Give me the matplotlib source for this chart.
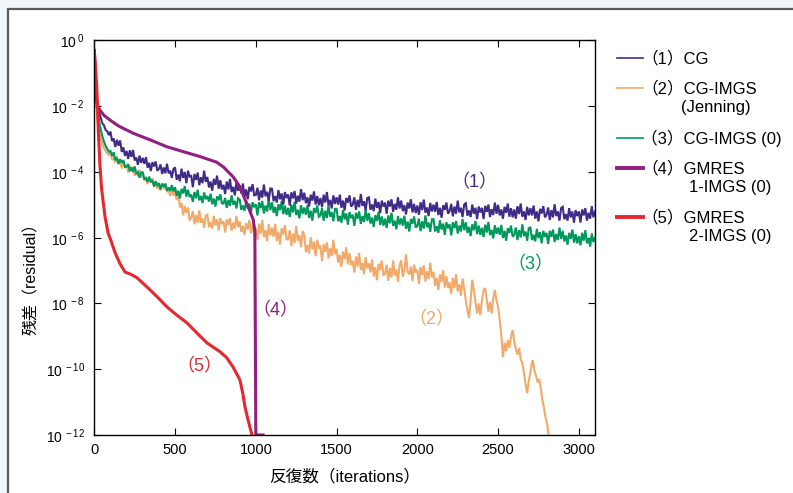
import numpy as np
import matplotlib
matplotlib.use('Agg')
import matplotlib.pyplot as plt
from matplotlib.lines import Line2D
from matplotlib.patches import Rectangle
from matplotlib.ticker import FixedLocator, NullLocator, FuncFormatter

plt.rcParams['font.family'] = ['Liberation Sans', 'Noto Sans CJK JP', 'DejaVu Sans']
plt.rcParams['mathtext.default'] = 'regular'

# ---------------- data (log10 of residual) ----------------
# (1) CG
cg_it_early = [0, 3, 6, 10, 15, 20, 30, 40, 50, 60, 70, 80, 90]
cg_log_early = [-0.3, -0.75, -1.15, -1.5, -1.75, -1.88, -2.2, -2.35, -2.52, -2.58, -2.72, -2.76, -2.88]
cg_log_grid = [  # iterations 100..3100 every 10
    -2.77, -3.06, -2.98, -3.24, -3.02, -3.2, -3.04, -3.39, -3.25, -3.51,
    -3.36, -3.6, -3.34, -3.54, -3.33, -3.65, -3.56, -3.78, -3.5, -3.72,
    -3.57, -3.75, -3.55, -3.87, -3.72, -3.97, -3.7, -3.83, -3.68, -3.96,
    -3.91, -3.77, -4.06, -3.86, -4.04, -3.75, -4.04, -3.96, -4.18, -3.91,
    -3.86, -4.24, -4.08, -4.28, -3.9, -4.18, -4.0, -4.34, -3.96, -4.14,
    -4.12, -4.46, -4.06, -4.24, -4.02, -4.4, -4.16, -4.34, -3.96, -4.3,
    -4.15, -4.47, -4.29, -4.57, -4.21, -4.39, -4.11, -4.51, -4.25, -4.53,
    -4.39, -4.67, -4.29, -4.53, -4.21, -4.61, -4.45, -4.71, -4.31, -4.57,
    -4.43, -4.65, -4.35, -4.75, -4.53, -4.83, -4.45, -4.59, -4.37, -4.71,
    -4.7, -4.48, -4.86, -4.56, -4.78, -4.38, -4.74, -4.6, -4.88, -4.5,
    -4.51, -4.89, -4.73, -4.93, -4.55, -4.83, -4.65, -4.99, -4.61, -4.79,
    -4.68, -5.02, -4.62, -4.8, -4.58, -4.96, -4.72, -4.9, -4.52, -4.86,
    -4.63, -4.95, -4.77, -5.05, -4.69, -4.87, -4.59, -4.99, -4.73, -5.01,
    -4.79, -5.07, -4.69, -4.93, -4.61, -5.01, -4.85, -5.11, -4.71, -4.97,
    -4.77, -4.99, -4.69, -5.09, -4.87, -5.17, -4.79, -4.93, -4.71, -5.05,
    -4.99, -4.77, -5.15, -4.85, -5.07, -4.67, -5.03, -4.89, -5.17, -4.79,
    -4.77, -5.15, -4.99, -5.19, -4.81, -5.09, -4.91, -5.25, -4.87, -5.05,
    -4.93, -5.27, -4.87, -5.05, -4.83, -5.21, -4.97, -5.15, -4.77, -5.11,
    -4.87, -5.19, -5.01, -5.29, -4.93, -5.11, -4.83, -5.23, -4.97, -5.25,
    -5.02, -5.3, -4.92, -5.16, -4.84, -5.24, -5.08, -5.34, -4.94, -5.2,
    -4.99, -5.21, -4.91, -5.31, -5.09, -5.39, -5.01, -5.15, -4.93, -5.27,
    -5.19, -4.97, -5.35, -5.05, -5.27, -4.87, -5.23, -5.09, -5.37, -4.99,
    -4.95, -5.33, -5.17, -5.37, -4.99, -5.27, -5.09, -5.43, -5.05, -5.23,
    -5.09, -5.43, -5.03, -5.21, -4.99, -5.37, -5.13, -5.31, -4.93, -5.27,
    -5.0, -5.32, -5.14, -5.42, -5.06, -5.24, -4.96, -5.36, -5.1, -5.38,
    -5.14, -5.42, -5.04, -5.28, -4.96, -5.36, -5.2, -5.46, -5.06, -5.32,
    -5.1, -5.32, -5.02, -5.42, -5.2, -5.5, -5.12, -5.26, -5.04, -5.38,
    -5.3, -5.08, -5.46, -5.16, -5.38, -4.98, -5.34, -5.2, -5.48, -5.1,
    -5.06, -5.44, -5.28, -5.48, -5.1, -5.38, -5.2, -5.54, -5.16, -5.34,
    -5.2, -5.54, -5.14, -5.32, -5.1, -5.48, -5.24, -5.42, -5.04, -5.38,
    -5.2]

# (2) CG-IMGS (Jenning)
jen_it_early = [0, 3, 6, 10, 15, 20, 30, 40, 50, 60, 70, 80, 90]
jen_log_early = [-0.3, -0.8, -1.3, -1.75, -2.15, -2.45, -2.78, -3.0, -3.15, -3.27, -3.36, -3.43, -3.48]
jen_log_grid = [  # iterations 100..2490 every 10
    -3.37, -3.63, -3.57, -3.72, -3.52, -3.73, -3.65, -3.89, -3.7, -3.84,
    -3.79, -4.02, -3.81, -3.95, -3.85, -4.11, -3.99, -4.13, -3.93, -4.17,
    -4.04, -4.26, -4.17, -4.37, -4.19, -4.31, -4.18, -4.45, -4.31, -4.51,
    -4.37, -4.56, -4.35, -4.52, -4.34, -4.61, -4.55, -4.73, -4.52, -4.72,
    -4.56, -4.85, -4.62, -5.08, -4.94, -5.32, -5.03, -5.24, -5.08, -5.47,
    -5.39, -5.19, -5.59, -5.31, -5.55, -5.17, -5.54, -5.41, -5.7, -5.33,
    -5.3, -5.68, -5.52, -5.72, -5.34, -5.62, -5.44, -5.78, -5.4, -5.58,
    -5.5, -5.84, -5.44, -5.62, -5.4, -5.78, -5.54, -5.72, -5.34, -5.68,
    -5.5, -5.82, -5.64, -5.92, -5.56, -5.74, -5.46, -5.86, -5.6, -5.88,
    -5.7, -6.06, -5.57, -5.88, -5.46, -5.98, -5.77, -6.11, -5.59, -5.93,
    -5.69, -5.97, -5.58, -6.1, -5.82, -6.21, -5.71, -5.9, -5.61, -6.05,
    -6.05, -5.77, -6.26, -5.87, -6.16, -5.64, -6.1, -5.92, -6.29, -5.79,
    -5.93, -6.43, -6.22, -6.48, -5.99, -6.35, -6.12, -6.56, -6.06, -6.3,
    -6.27, -6.71, -6.19, -6.43, -6.14, -6.63, -6.32, -6.56, -6.06, -6.5,
    -6.34, -6.76, -6.52, -6.89, -6.42, -6.65, -6.29, -6.81, -6.47, -6.83,
    -6.7, -7.06, -6.57, -6.88, -6.46, -6.98, -6.77, -7.11, -6.59, -6.93,
    -6.77, -7.05, -6.66, -7.18, -6.9, -7.29, -6.79, -6.98, -6.69, -7.13,
    -7.1, -6.82, -7.31, -6.92, -7.21, -6.69, -7.15, -6.97, -7.34, -6.84,
    -6.69, -7.19, -6.98, -6.5, -7.05, -7.11, -6.88, -7.32, -6.82, -7.06,
    -6.97, -7.41, -6.89, -7.13, -6.84, -7.33, -7.02, -7.26, -6.76, -7.2,
    -7.04, -7.46, -7.22, -7.59, -7.12, -7.35, -6.99, -7.51, -7.17, -7.53,
    -7.35, -7.71, -7.22, -7.53, -7.11, -7.63, -7.42, -7.76, -7.24, -7.58,
    -7.9, -8.2, -8.44, -7.9, -7.28, -7.6, -7.95, -8.3, -8.0, -8.35,
    -7.9, -7.6, -7.53, -7.9, -8.25, -7.95, -8.3, -7.85, -7.59, -7.9]
jen_it_tail = [2500, 2510, 2520, 2530, 2540, 2550, 2560, 2570, 2580, 2590, 2600, 2610, 2620, 2630,
               2640, 2650, 2660, 2670, 2680, 2690, 2700, 2710, 2715, 2725, 2735, 2745, 2755, 2765,
               2775, 2785, 2795, 2805, 2815]
jen_log_tail = [-8.1, -8.5, -8.95, -9.63, -9.2, -9.45, -9.11, -9.35, -9.0, -8.81, -9.15, -9.4, -9.55, -9.35,
                -9.7, -9.81, -10.1, -10.45, -10.72, -10.35, -10.1, -9.8, -9.72, -10.05, -10.2, -10.4, -10.3,
                -10.6, -10.95, -11.2, -11.5, -11.7, -12.1]

# (3) CG-IMGS (0)
g0_it_early = [0, 3, 6, 10, 15, 20, 30, 40, 50, 60, 70, 80, 90]
g0_log_early = [-0.3, -0.75, -1.2, -1.6, -1.9, -2.1, -2.45, -2.72, -2.92, -3.08, -3.2, -3.3, -3.38]
g0_log_grid = [  # iterations 100..3100 every 10
    -3.36, -3.51, -3.4, -3.64, -3.57, -3.76, -3.61, -3.72, -3.64, -3.85,
    -3.84, -3.76, -3.98, -3.86, -4.0, -3.83, -4.04, -4.0, -4.17, -4.01,
    -4.01, -4.23, -4.18, -4.3, -4.14, -4.31, -4.25, -4.44, -4.28, -4.4,
    -4.34, -4.53, -4.35, -4.45, -4.36, -4.57, -4.47, -4.58, -4.4, -4.59,
    -4.46, -4.72, -4.57, -4.8, -4.51, -4.65, -4.43, -4.75, -4.54, -4.76,
    -4.69, -4.91, -4.61, -4.8, -4.54, -4.86, -4.73, -4.94, -4.62, -4.83,
    -4.73, -4.9, -4.66, -4.98, -4.81, -5.05, -4.74, -4.86, -4.68, -4.95,
    -4.96, -4.79, -5.09, -4.85, -5.03, -4.71, -4.99, -4.88, -5.11, -4.8,
    -4.84, -5.15, -5.02, -5.18, -4.88, -5.1, -4.96, -5.23, -4.92, -5.07,
    -4.98, -5.32, -4.92, -5.1, -4.88, -5.26, -5.02, -5.2, -4.82, -5.16,
    -4.92, -5.24, -5.06, -5.34, -4.98, -5.16, -4.88, -5.28, -5.02, -5.3,
    -5.09, -5.37, -4.99, -5.23, -4.91, -5.31, -5.15, -5.41, -5.01, -5.27,
    -5.08, -5.3, -5.0, -5.4, -5.18, -5.48, -5.1, -5.24, -5.02, -5.36,
    -5.32, -5.1, -5.48, -5.18, -5.4, -5.0, -5.36, -5.22, -5.5, -5.12,
    -5.12, -5.5, -5.34, -5.54, -5.16, -5.44, -5.26, -5.6, -5.22, -5.4,
    -5.3, -5.64, -5.24, -5.42, -5.2, -5.58, -5.34, -5.52, -5.14, -5.48,
    -5.25, -5.57, -5.39, -5.67, -5.31, -5.49, -5.21, -5.61, -5.35, -5.63,
    -5.42, -5.7, -5.32, -5.56, -5.24, -5.64, -5.48, -5.74, -5.34, -5.6,
    -5.41, -5.63, -5.33, -5.73, -5.51, -5.81, -5.43, -5.57, -5.35, -5.69,
    -5.64, -5.42, -5.8, -5.5, -5.72, -5.32, -5.68, -5.54, -5.82, -5.44,
    -5.43, -5.81, -5.65, -5.85, -5.47, -5.75, -5.57, -5.91, -5.53, -5.71,
    -5.59, -5.93, -5.53, -5.71, -5.49, -5.87, -5.63, -5.81, -5.43, -5.77,
    -5.53, -5.85, -5.67, -5.95, -5.59, -5.77, -5.49, -5.89, -5.63, -5.91,
    -5.7, -5.98, -5.6, -5.84, -5.52, -5.92, -5.76, -6.02, -5.62, -5.88,
    -5.69, -5.91, -5.61, -6.01, -5.79, -6.09, -5.71, -5.85, -5.63, -5.97,
    -5.91, -5.69, -6.07, -5.77, -5.99, -5.59, -5.95, -5.81, -6.09, -5.71,
    -5.69, -6.07, -5.91, -6.11, -5.73, -6.01, -5.83, -6.17, -5.79, -5.97,
    -5.85, -6.19, -5.79, -5.97, -5.75, -6.13, -5.89, -6.07, -5.69, -6.03,
    -5.79, -6.11, -5.93, -6.21, -5.85, -6.03, -5.75, -6.15, -5.89, -6.17,
    -5.95, -6.23, -5.85, -6.09, -5.77, -6.17, -6.01, -6.27, -5.87, -6.13,
    -6.0]

# (4) GMRES 1-IMGS (0)
gm1_it = [0, 3, 6, 10, 15, 20, 35, 60, 97, 150, 240, 350, 448, 550, 654, 757, 800, 860,
          902, 930, 960, 984, 994, 1000, 1045]
gm1_log = [-0.3, -0.8, -1.25, -1.6, -1.85, -1.98, -2.12, -2.28, -2.42, -2.6, -2.82, -3.03, -3.23,
           -3.38, -3.53, -3.7, -3.85, -4.15, -4.45, -4.8, -5.15, -5.45, -5.8, -12.0, -12.0]

# (5) GMRES 2-IMGS (0)
gm2_it = [0, 5, 10, 15, 20, 25, 35, 45, 56, 66, 85, 104, 129, 160, 190, 230, 265, 327, 390,
          451, 510, 574, 640, 698, 779, 820, 859, 902, 920, 933, 955, 976, 985]
gm2_log = [-0.3, -0.6, -1.0, -1.4, -2.0, -2.75, -3.8, -4.5, -4.95, -5.35, -5.85, -6.1, -6.46, -6.8,
           -7.04, -7.12, -7.22, -7.5, -7.8, -8.11, -8.35, -8.59, -8.92, -9.2, -9.47, -9.65, -9.93,
           -10.33, -10.75, -11.15, -11.6, -12.0, -12.2]

labels = ['（1）CG', '（2）CG-IMGS', '（3）CG-IMGS (0)', '（4）GMRES', '（5）GMRES']
sublabels = ['', '(Jenning)', '', '1-IMGS (0)', '2-IMGS (0)']
tags = ['（1）', '（2）', '（3）', '（4）', '（5）']
tag_x = [2356, 2090, 2703, 1124, 654]
tag_logy = [-4.33, -8.5, -6.83, -8.23, -9.93]
xticks = [0, 500, 1000, 1500, 2000, 2500, 3000]
yexp = [0, -2, -4, -6, -8, -10, -12]

# ---------------- assemble series ----------------
series_x = [
    np.concatenate([cg_it_early, np.arange(100, 3101, 10)]),
    np.concatenate([jen_it_early, np.arange(100, 2491, 10), jen_it_tail]),
    np.concatenate([g0_it_early, np.arange(100, 3101, 10)]),
    np.array(gm1_it, dtype=float),
    np.array(gm2_it, dtype=float),
]
series_log = [
    np.concatenate([cg_log_early, cg_log_grid]),
    np.concatenate([jen_log_early, jen_log_grid, jen_log_tail]),
    np.concatenate([g0_log_early, g0_log_grid]),
    np.array(gm1_log),
    np.array(gm2_log),
]
colors = ['#412b88', '#f2aa6b', '#00995c', '#931e80', '#e6282e']
widths = [1.5, 1.5, 1.5, 2.2, 2.2]
draw_order = [1, 2, 0, 3, 4]

W, H = 793, 493
fig = plt.figure(figsize=(W / 100, H / 100), dpi=100)
fig.patch.set_facecolor('#f2f7fb')

def fx(px):
    return px / W

def fy(py):
    return 1 - py / H

panel = Rectangle((fx(8), -0.1), 1.2, fy(9.5) + 0.1, transform=fig.transFigure,
                  facecolor='white', edgecolor='#5a5a5a', lw=1.6, zorder=-10)
fig.add_artist(panel)

ax = fig.add_axes([fx(94.3), fy(435), (595 - 94.3) / W, (435 - 40.5) / H])
ax.set_facecolor('white')
ax.set_zorder(1)

for i in draw_order:
    ax.plot(series_x[i], 10.0 ** series_log[i], color=colors[i], lw=widths[i],
            solid_joinstyle='miter')

ax.set_yscale('log')
ax.set_xlim(0, 3100)
ax.set_ylim(1e-12, 1)
ax.xaxis.set_major_locator(FixedLocator(xticks))
ax.yaxis.set_major_locator(FixedLocator([10.0 ** e for e in yexp]))
ax.yaxis.set_minor_locator(NullLocator())
ax.xaxis.set_minor_locator(NullLocator())
ax.yaxis.set_major_formatter(FuncFormatter(
    lambda v, p: r'$10^{\,%d}$' % int(round(np.log10(v)))))
ax.tick_params(direction='in', length=5, width=0.8, top=True, right=True,
               colors='black')
ax.tick_params(axis='x', pad=6, labelsize=10.5)
ax.tick_params(axis='y', pad=7, labelsize=10)
for s in ax.spines.values():
    s.set_linewidth(1.0)

for i in range(5):
    ax.text(tag_x[i], 10.0 ** tag_logy[i], tags[i], color=colors[i], fontsize=13,
            ha='center', va='center')

fig.text(fx(345), fy(476), '反復数（iterations）', fontsize=12, ha='center', va='center')
fig.text(fx(31), fy(275), '残差（residual）', fontsize=11.5, ha='center', va='center',
         rotation=90)

# legend (drawn outside the axes)
leg_y = [58, 88, 138, 168, 217]
for i in range(5):
    fig.add_artist(Line2D([fx(617), fx(643)], [fy(leg_y[i]), fy(leg_y[i])],
                          transform=fig.transFigure, color=colors[i],
                          lw=(1.2 if widths[i] < 2 else 2.8)))
    fig.text(fx(641), fy(leg_y[i]), labels[i], fontsize=12, ha='left', va='center')
    if sublabels[i]:
        sx = 681 if sublabels[i].startswith('(') else 689
        fig.text(fx(sx), fy(leg_y[i] + 19.5), sublabels[i], fontsize=12,
                 ha='left', va='center')

fig.savefig('out.png', dpi=100, facecolor=fig.get_facecolor())
